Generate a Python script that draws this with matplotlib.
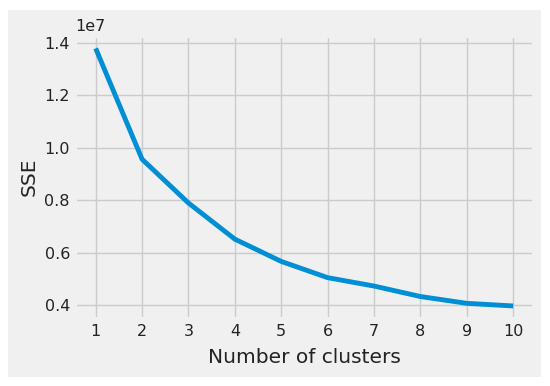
import matplotlib.pyplot as plt
from matplotlib.patches import Rectangle

clusters = [1, 2, 3, 4, 5, 6, 7, 8, 9, 10]
sse = [1.379e7, 0.956e7, 0.789e7, 0.651e7, 0.566e7, 0.504e7, 0.472e7, 0.432e7, 0.406e7, 0.396e7]

plt.style.use('fivethirtyeight')
fig = plt.figure(figsize=(5.5, 3.86), dpi=100, facecolor='white')
# grey figure panel with a thin white border around it
fig.patches.append(Rectangle((8/550, 9/386), 533/550, 367/386, transform=fig.transFigure,
                             facecolor='#f0f0f0', edgecolor='none', zorder=-1))
ax = fig.add_axes([0.136, 0.174, 0.835, 0.734])
ax.set_facecolor('#f0f0f0')
ax.plot(clusters, sse, color='#008fd5', linewidth=3.5)
ax.set_xticks(clusters)
ax.tick_params(labelsize=11.5, colors='#222222')
ax.yaxis.get_offset_text().set_fontsize(11.5)
ax.set_xlabel('Number of clusters', fontsize=14.5, labelpad=7, color='#222222')
ax.set_ylabel('SSE', fontsize=14.5, color='#222222')
fig.savefig('out.png', dpi=100)
